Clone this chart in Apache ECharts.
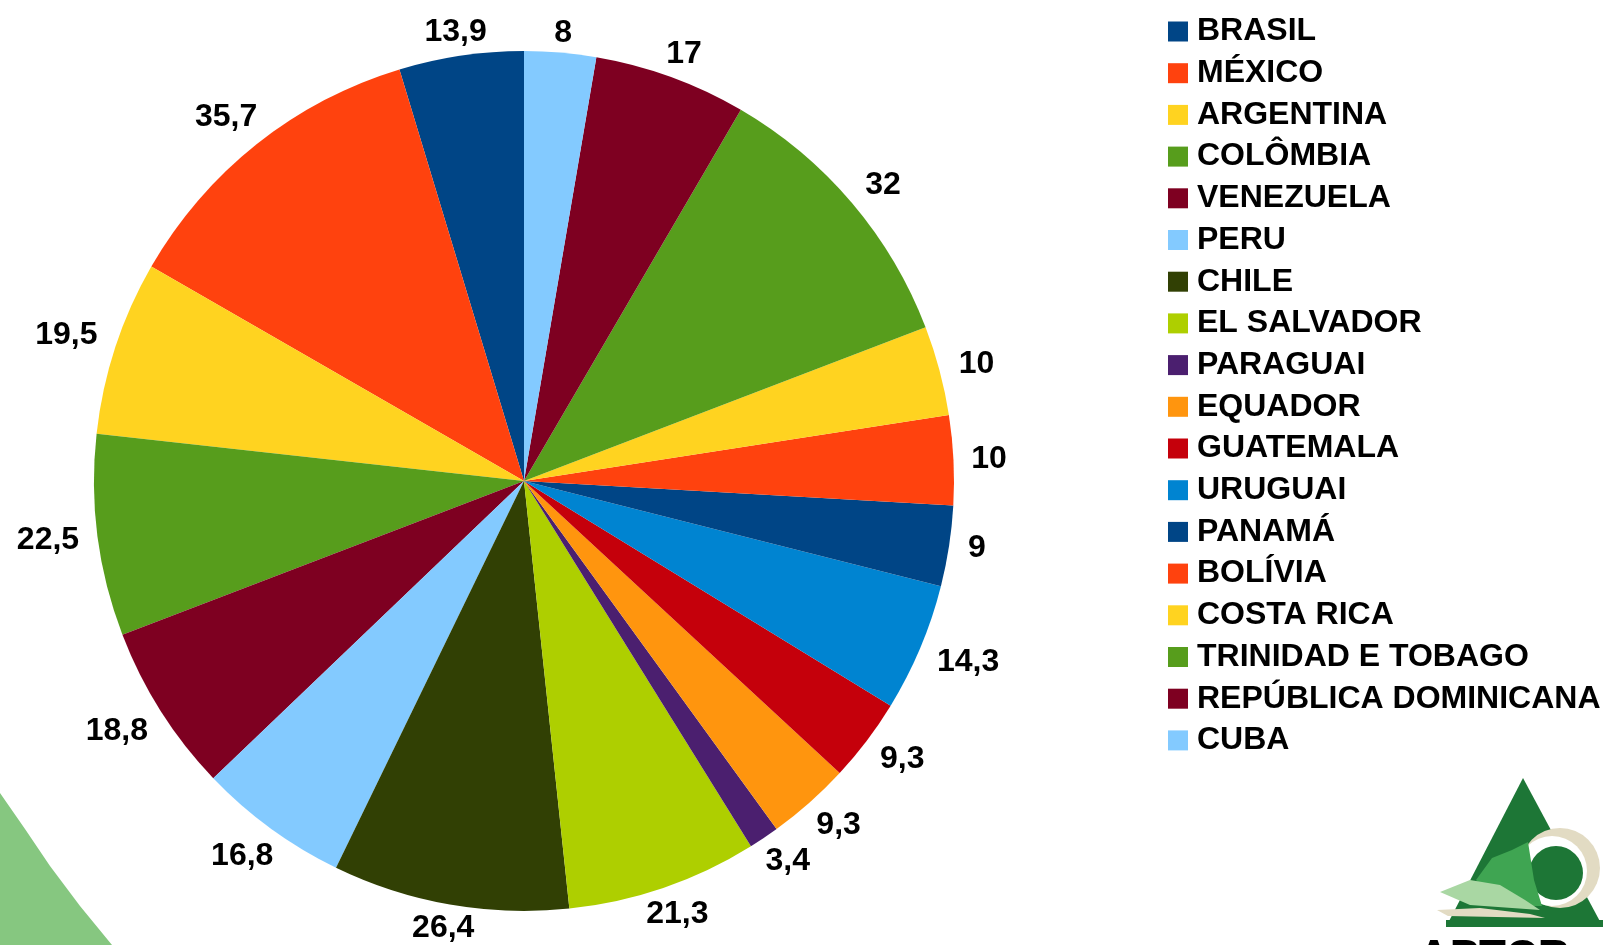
<!DOCTYPE html>
<html>
<head>
<meta charset="utf-8">
<title>pie</title>
<script src="https://cdn.jsdelivr.net/npm/echarts@6/dist/echarts.min.js"></script>
<style>
  html, body { margin: 0; padding: 0; background: #fff; }
  #chart { width: 1607px; height: 945px; }
</style>
</head>
<body>
<div id="chart"></div>
<script>
// paises (mesma ordem da legenda)
var countries = [
  "BRASIL", "MÉXICO", "ARGENTINA", "COLÔMBIA", "VENEZUELA", "PERU",
  "CHILE", "EL SALVADOR", "PARAGUAI", "EQUADOR", "GUATEMALA", "URUGUAI",
  "PANAMÁ", "BOLÍVIA", "COSTA RICA", "TRINIDAD E TOBAGO",
  "REPÚBLICA DOMINICANA", "CUBA"
];
// valores
var values = [
  13.9, 35.7, 19.5, 22.5, 18.8, 16.8,
  26.4, 21.3, 3.4, 9.3, 9.3, 14.3,
  9, 10, 10, 32,
  17, 8
];
// paleta (repete depois da 12a cor)
var colors = [
  "#004586", "#ff420e", "#ffd320", "#579d1c", "#7e0021", "#83caff",
  "#314004", "#aecf00", "#4b1f6f", "#ff950e", "#c5000b", "#0084d1"
];

var pieCenter = [524, 481];
var pieRadius = 430;
// o original e levemente oval, os rotulos seguem isso
var labelRadiusX = 438;
var labelRadiusY = 424;
var labelGap = 9;
var font = "'Liberation Sans', Arial, sans-serif";

let chart = echarts.init(document.getElementById("chart"));

let pieData = [];
for (let i = 0; i < countries.length; i++) {
  pieData.push({ name: countries[i], value: values[i] });
}

// rotulo centrado na direcao do meio da fatia
function placeLabel(p) {
  let rect = p.labelRect;
  let pts = p.labelLinePoints;
  let ex, ey;
  if (pts && pts.length) {
    ex = pts[0][0];
    ey = pts[0][1];
  } else {
    ex = rect.x + rect.width / 2;
    ey = rect.y + rect.height / 2;
  }
  let ux = ex - pieCenter[0];
  let uy = ey - pieCenter[1];
  let len = Math.sqrt(ux * ux + uy * uy) || 1;
  ux /= len;
  uy /= len;
  let bx = pieCenter[0] + ux * labelRadiusX;
  let by = pieCenter[1] + uy * labelRadiusY;
  let off = labelGap + Math.abs(ux) * rect.width / 2 + Math.abs(uy) * rect.height / 2;
  return {
    x: bx + ux * off,
    y: by + uy * off,
    align: "center",
    verticalAlign: "middle"
  };
}

chart.setOption({
  backgroundColor: "#fff",
  color: colors,
  animation: false,
  legend: {
    orient: "vertical",
    left: 1163,
    top: 10.5,
    icon: "rect",
    itemWidth: 20,
    itemHeight: 20,
    itemGap: 9.7,
    data: countries,
    textStyle: {
      fontFamily: font,
      fontWeight: "bold",
      fontSize: 32,
      lineHeight: 32,
      color: "#000",
      padding: [0, 0, 0, 4]
    }
  },
  graphic: [
    // faixa verde no canto inferior esquerdo
    {
      type: "polygon",
      z: -10,
      shape: { points: [[0, 793], [25, 829], [50, 866], [80, 906], [112, 945], [0, 945]] },
      style: { fill: "#86c780" }
    },
    // logo (aproximado)
    {
      type: "polygon",
      z: -10,
      shape: { points: [[1523, 778], [1446, 927], [1603, 927]] },
      style: { fill: "#1d7636" }
    },
    {
      type: "circle",
      z: -9,
      shape: { cx: 1560, cy: 868, r: 40 },
      style: { fill: "#e2dbc3" }
    },
    {
      type: "circle",
      z: -9,
      shape: { cx: 1552, cy: 871, r: 35 },
      style: { fill: "#ffffff" }
    },
    {
      type: "circle",
      z: -9,
      shape: { cx: 1556, cy: 873, r: 27 },
      style: { fill: "#1d7636" }
    },
    {
      type: "polygon",
      z: -8,
      shape: { points: [[1476, 880], [1492, 858], [1512, 850], [1528, 842], [1534, 880], [1542, 906], [1500, 906]] },
      style: { fill: "#3fa552" }
    },
    {
      type: "polygon",
      z: -8,
      shape: { points: [[1440, 892], [1470, 880], [1500, 885], [1525, 900], [1540, 910], [1470, 905]] },
      style: { fill: "#a9d7a3" }
    },
    {
      type: "polygon",
      z: -8,
      shape: { points: [[1437, 910], [1480, 908], [1530, 914], [1545, 918], [1448, 916]] },
      style: { fill: "#e2dbc3" }
    },
    {
      type: "rect",
      z: -8,
      shape: { x: 1446, y: 920, width: 157, height: 7 },
      style: { fill: "#1d7636" }
    },
    {
      type: "text",
      z: -8,
      left: 1418,
      top: 937,
      style: {
        text: "APTCR",
        fontFamily: font,
        fontWeight: "bold",
        fontSize: 44,
        fill: "#000"
      }
    }
  ],
  series: [
    {
      type: "pie",
      center: pieCenter,
      radius: pieRadius,
      startAngle: 90,
      clockwise: false,
      avoidLabelOverlap: false,
      data: pieData,
      itemStyle: { borderWidth: 0 },
      label: {
        show: true,
        position: "outside",
        fontFamily: font,
        fontWeight: "bold",
        fontSize: 32,
        color: "#000",
        formatter: function (p) {
          return String(p.value).replace(".", ",");
        }
      },
      labelLine: {
        show: true,
        length: 10,
        length2: 0,
        lineStyle: { opacity: 0 }
      },
      labelLayout: placeLabel,
      emphasis: { disabled: true }
    }
  ]
});
</script>
</body>
</html>
